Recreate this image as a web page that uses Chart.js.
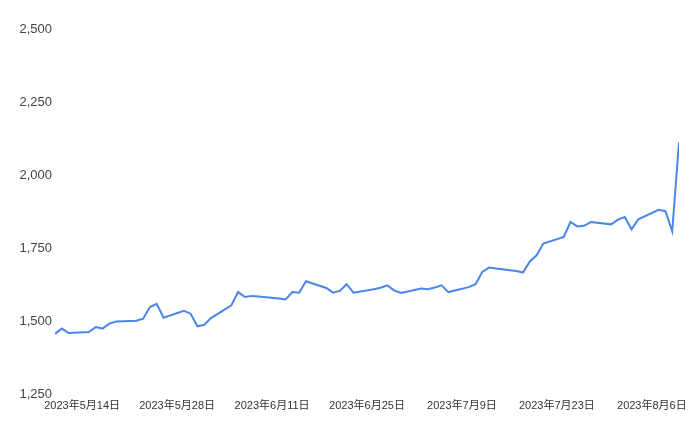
<!DOCTYPE html>
<html>
<head>
<meta charset="utf-8">
<script src="https://cdn.jsdelivr.net/npm/chart.js@4"></script>
<style>
  html, body { margin: 0; padding: 0; background: #fff; }
  #wrap { width: 700px; height: 432px; }
</style>
</head>
<body>
<div id="wrap"><canvas id="chart"></canvas></div>
<script>
// trading days and closing values
const dates = [
  '2023-05-10','2023-05-11','2023-05-12','2023-05-15','2023-05-16','2023-05-17','2023-05-18','2023-05-19',
  '2023-05-22','2023-05-23','2023-05-24','2023-05-25','2023-05-26','2023-05-29','2023-05-30','2023-05-31',
  '2023-06-01','2023-06-02','2023-06-05','2023-06-06','2023-06-07','2023-06-08','2023-06-09','2023-06-12',
  '2023-06-13','2023-06-14','2023-06-15','2023-06-16','2023-06-19','2023-06-20','2023-06-21','2023-06-22',
  '2023-06-23','2023-06-26','2023-06-27','2023-06-28','2023-06-29','2023-06-30','2023-07-03','2023-07-04',
  '2023-07-05','2023-07-06','2023-07-07','2023-07-10','2023-07-11','2023-07-12','2023-07-13','2023-07-14',
  '2023-07-17','2023-07-18','2023-07-19','2023-07-20','2023-07-21','2023-07-24','2023-07-25','2023-07-26',
  '2023-07-27','2023-07-28','2023-07-31','2023-08-01','2023-08-02','2023-08-03','2023-08-04','2023-08-07',
  '2023-08-08','2023-08-09','2023-08-10'
];
const values = [
  1456, 1474, 1459, 1462, 1479, 1474, 1491, 1498,
  1501, 1508, 1548, 1559, 1511, 1535, 1525, 1482,
  1487, 1510, 1554, 1599, 1582, 1586, 1584, 1577,
  1574, 1599, 1597, 1636, 1613, 1597, 1603, 1626,
  1597, 1609, 1614, 1622, 1605, 1596, 1611, 1609,
  1615, 1622, 1599, 1616, 1626, 1668, 1683, 1680,
  1671, 1666, 1704, 1725, 1765, 1788, 1839, 1824,
  1826, 1839, 1831, 1847, 1856, 1814, 1848, 1881,
  1876, 1807, 2112
];
const tickDates = ['2023-05-14','2023-05-28','2023-06-11','2023-06-25','2023-07-09','2023-07-23','2023-08-06'];
const yTicks = [1250, 1500, 1750, 2000, 2250, 2500];

const DAY = 86400000;
function dayNum(s) {
  const p = s.split('-').map(Number);
  return Date.UTC(p[0], p[1] - 1, p[2]) / DAY;
}
function fmtDay(n) {
  const d = new Date(n * DAY);
  return d.getUTCFullYear() + '年' + (d.getUTCMonth() + 1) + '月' + d.getUTCDate() + '日';
}

const points = dates.map((d, i) => ({ x: dayNum(d), y: values[i] }));
const family = "'Liberation Sans', Arial, 'Noto Sans CJK JP', sans-serif";

new Chart(document.getElementById('chart'), {
  type: 'line',
  data: {
    datasets: [{
      data: points,
      borderColor: '#4a86e8',
      borderWidth: 2,
      pointRadius: 0,
      tension: 0,
      fill: false
    }]
  },
  options: {
    responsive: true,
    maintainAspectRatio: false,
    animation: false,
    layout: { padding: { top: 29, right: 21, left: 0, bottom: 0 } },
    plugins: { legend: { display: false }, tooltip: { enabled: false } },
    scales: {
      x: {
        type: 'linear',
        min: dayNum(dates[0]),
        max: dayNum(dates[dates.length - 1]),
        grid: { display: false, drawTicks: false },
        border: { display: false },
        afterBuildTicks: s => { s.ticks = tickDates.map(t => ({ value: dayNum(t) })); },
        afterFit: s => { s.height = 38; },
        ticks: {
          autoSkip: false,
          maxRotation: 0,
          padding: 5,
          color: '#333',
          font: { family: family, size: 11 },
          callback: v => fmtDay(v)
        }
      },
      y: {
        min: 1250,
        max: 2500,
        grid: { display: false, drawTicks: false },
        border: { display: false },
        afterBuildTicks: s => { s.ticks = yTicks.map(v => ({ value: v })); },
        afterFit: s => { s.width = 55; },
        ticks: {
          padding: 3,
          color: '#444',
          font: { family: family, size: 13 },
          callback: v => v.toLocaleString('en-US')
        }
      }
    }
  }
});
</script>
</body>
</html>
